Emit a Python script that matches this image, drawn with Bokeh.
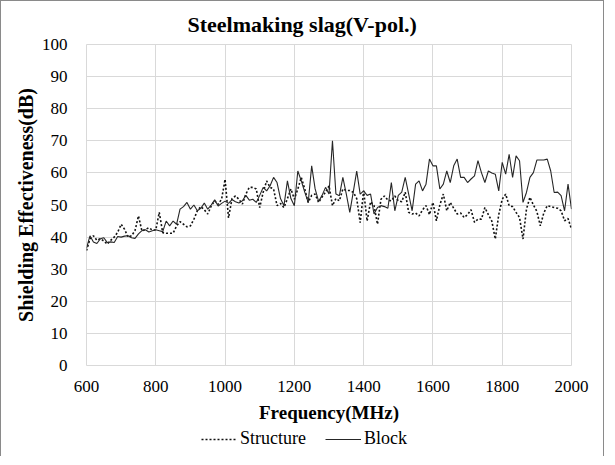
from bokeh.plotting import figure
from bokeh.models import Range1d, FixedTicker, Legend, LegendItem
from bokeh.layouts import column
from bokeh.embed import file_html
from bokeh.resources import INLINE

freq = list(range(600, 2001, 10))

structure = [
    35.8, 39.4, 40.4, 39.0, 39.5, 38.8, 37.8, 39.0, 40.0, 41.5,
    44.0, 42.4, 40.0, 40.4, 42.0, 46.6, 41.9, 42.4, 42.9, 42.2,
    42.2, 47.7, 41.4, 41.2, 41.2, 41.2, 43.5, 44.8, 44.0, 43.2,
    43.5, 45.6, 48.2, 49.5, 48.5, 47.2, 49.7, 51.3, 50.2, 51.8,
    58.0, 46.0, 52.0, 52.8, 51.8, 50.3, 53.4, 55.5, 55.5, 55.0,
    49.2, 54.0, 57.5, 55.5, 55.0, 49.8, 50.5, 49.2, 52.0, 55.0,
    51.8, 55.0, 58.6, 55.0, 50.8, 53.0, 53.4, 50.8, 52.5, 54.0,
    56.0, 49.8, 52.0, 51.3, 55.0, 54.5, 54.5, 54.0, 52.0, 44.5,
    54.4, 45.0, 51.0, 49.8, 44.0, 51.8, 52.8, 51.5, 51.3, 52.8,
    51.3, 51.0, 54.0, 47.7, 47.2, 47.5, 46.6, 48.5, 49.8, 47.0,
    50.8, 45.1, 50.0, 53.4, 48.2, 50.8, 49.0, 47.2, 47.5, 46.1,
    47.0, 48.5, 44.6, 45.6, 45.6, 49.2, 47.0, 45.0, 39.4, 47.0,
    51.8, 53.4, 49.8, 49.5, 47.7, 46.1, 39.4, 48.7, 52.4, 50.0,
    48.0, 43.5, 47.5, 49.8, 49.5, 49.2, 49.0, 48.2, 45.1, 45.8,
    42.5,
]

block = [
    36.5, 40.4, 38.5, 38.0, 39.5, 39.8, 38.3, 38.5, 38.3, 40.2,
    40.0, 40.3, 40.4, 39.8, 39.6, 41.0, 42.0, 42.3, 41.6, 42.0,
    42.3, 42.0, 41.7, 45.0, 43.5, 45.0, 44.0, 48.7, 49.5, 50.8,
    48.7, 50.0, 48.2, 49.0, 50.6, 48.7, 50.0, 51.6, 49.7, 50.5,
    51.2, 50.5, 51.7, 51.0, 50.6, 51.3, 53.0, 51.5, 51.8, 50.8,
    53.0, 55.5, 54.4, 56.0, 58.6, 57.0, 52.0, 49.8, 57.5, 52.0,
    49.8, 60.6, 57.5, 54.0, 50.8, 62.2, 55.0, 51.1, 53.0, 55.5,
    53.4, 70.0, 53.4, 52.9, 58.6, 53.4, 47.7, 54.0, 60.6, 53.4,
    54.4, 53.0, 53.4, 47.2, 49.2, 49.8, 49.5, 49.0, 57.0, 48.2,
    53.0, 54.0, 58.6, 53.4, 48.2, 56.5, 57.5, 54.4, 56.5, 64.3,
    62.2, 62.2, 55.0, 56.5, 60.6, 57.0, 62.2, 64.3, 58.6, 58.6,
    57.0, 58.1, 59.1, 63.8, 60.1, 57.0, 60.6, 60.0, 59.6, 54.4,
    63.3, 59.6, 65.8, 58.6, 65.3, 63.8, 50.8, 53.9, 58.6, 60.1,
    64.0, 64.0, 64.0, 64.3, 60.6, 53.9, 54.0, 52.9, 48.2, 56.5,
    48.7,
]

x_ticks = [600, 800, 1000, 1200, 1400, 1600, 1800, 2000]
y_ticks = [0, 10, 20, 30, 40, 50, 60, 70, 80, 90, 100]

title_text = "Steelmaking  slag(V-pol.)"
x_label = "Frequency(MHz)"
y_label = "Shielding Effectiveness(dB)"
series_names = ["Structure", "Block"]

FONT = "Liberation Serif"
GRID = "#d9d9d9"
BORDER = "1px solid #8a8a8a"

DOT = dict(line_color="#111111", line_width=1.6, line_dash="2 2")
SOLID = dict(line_color="#262626", line_width=1.1)

p = figure(width=604, height=424, output_backend="svg", toolbar_location=None,
           x_range=Range1d(600, 2000), y_range=Range1d(0, 100),
           min_border_left=85, min_border_right=34, min_border_top=43,
           min_border_bottom=60)
p.styles = {"border-left": BORDER, "border-top": BORDER, "border-right": BORDER}

p.title.text = title_text
p.title.align = "left"
p.title.text_font = FONT
p.title.text_font_size = "22px"
p.title.text_font_style = "bold"
p.title.text_color = "#000000"
p.title.standoff = 16
p.title.offset = 101

p.outline_line_color = GRID
p.xgrid.grid_line_color = GRID
p.ygrid.grid_line_color = GRID

for ax in (p.xaxis, p.yaxis):
    ax.axis_line_color = None
    ax.major_tick_line_color = None
    ax.minor_tick_line_color = None
    ax.major_label_text_font = FONT
    ax.major_label_text_font_size = "17px"
    ax.major_label_text_color = "#000000"
    ax.axis_label_text_font = FONT
    ax.axis_label_text_font_style = "bold"
    ax.axis_label_text_color = "#000000"

p.xaxis.axis_label_text_font_size = "19px"
p.yaxis.axis_label_text_font_size = "20px"
p.xaxis.ticker = FixedTicker(ticks=x_ticks)
p.yaxis.ticker = FixedTicker(ticks=y_ticks)
p.xaxis.axis_label = x_label
p.yaxis.axis_label = y_label
p.xaxis.major_label_standoff = 9
p.yaxis.major_label_standoff = 13
p.xaxis.axis_label_standoff = 7
p.yaxis.axis_label_standoff = 2

p.line(freq, structure, **DOT)
p.line(freq, block, **SOLID)

# legend strip below the chart (its ranges keep the series out of view)
lg = figure(width=604, height=32, output_backend="svg", toolbar_location=None,
            x_range=Range1d(0, 1), y_range=Range1d(0, 1),
            x_axis_type=None, y_axis_type=None, min_border=0)
lg.styles = {"border-left": BORDER, "border-right": BORDER}
lg.outline_line_color = None
lg.grid.visible = False
k1 = lg.line(freq, structure, **DOT)
k2 = lg.line(freq, block, **SOLID)

legend = Legend(items=[LegendItem(label=series_names[0], renderers=[k1]),
                       LegendItem(label=series_names[1], renderers=[k2])],
                orientation="horizontal", location=(115, 7))
legend.label_text_font = FONT
legend.label_text_font_size = "18px"
legend.label_text_color = "#000000"
legend.border_line_color = None
legend.background_fill_alpha = 0
legend.glyph_width = 36
legend.glyph_height = 14
legend.label_standoff = 3
legend.spacing = 19
legend.padding = 2
legend.margin = 0
lg.add_layout(legend, "center")

layout = column(p, lg, spacing=0)
html = file_html(layout, INLINE)
open("out.html", "w").write(html)
